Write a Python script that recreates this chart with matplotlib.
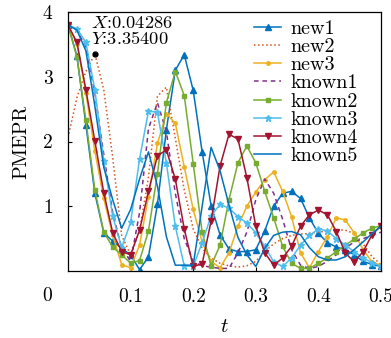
"""PMEPR over t for new and known sequences."""

import matplotlib
matplotlib.use("Agg")
import matplotlib.pyplot as plt

plt.rcParams["font.family"] = ["cmr10", "DejaVu Sans"]
plt.rcParams["mathtext.fontset"] = "cm"
plt.rcParams["axes.unicode_minus"] = False
plt.rcParams["axes.formatter.use_mathtext"] = True

t = [0.0, 0.01429, 0.02857, 0.04286, 0.05714, 0.07143, 0.08571, 0.1,
     0.11429, 0.12857, 0.14286, 0.15714, 0.17143, 0.18571, 0.2, 0.21429,
     0.22857, 0.24286, 0.25714, 0.27143, 0.28571, 0.3, 0.31429, 0.32857,
     0.34286, 0.35714, 0.37143, 0.38571, 0.4, 0.41429, 0.42857, 0.44286,
     0.45714, 0.47143, 0.48571, 0.5]

new1 = [3.80, 3.32, 2.26, 1.20, 0.59, 0.46, 0.35, 0.25, 0.02, 0.22, 1.03, 2.18,
        3.10, 3.34, 2.79, 1.84, 1.01, 0.56, 0.34, 0.30, 0.30, 0.33, 0.62, 1.00,
        1.20, 1.23, 1.12, 0.82, 0.58, 0.44, 0.37, 0.33, 0.25, 0.15, 0.10, 0.07]
new2 = [2.06, 2.68, 3.08, 3.354, 2.80, 1.75, 0.55, 0.25, 0.62, 1.45, 2.70, 2.84,
        2.05, 1.25, 0.65, 0.35, 0.20, 0.12, 0.08, 0.06, 0.08, 0.15, 0.30, 0.42,
        0.50, 0.55, 0.57, 0.58, 0.60, 0.62, 0.64, 0.63, 0.58, 0.42, 0.22, 0.10]
new3 = [3.80, 3.50, 2.75, 1.85, 1.12, 0.55, 0.10, 0.05, 0.40, 1.15, 1.97, 2.43,
        2.28, 1.61, 0.95, 0.45, 0.15, 0.05, 0.28, 0.69, 1.00, 1.22, 1.41, 1.53,
        1.23, 0.84, 0.28, 0.05, 0.30, 0.53, 0.82, 0.79, 0.59, 0.33, 0.14, 0.09]
known1 = [3.80, 3.72, 3.45, 2.75, 1.80, 0.90, 0.35, 0.15, 0.90, 2.20, 2.60, 2.15,
          1.20, 0.50, 0.15, 0.08, 0.06, 0.04, 0.04, 0.28, 0.60, 1.10, 1.42, 1.20,
          0.80, 0.33, 0.09, 0.04, 0.07, 0.15, 0.25, 0.35, 0.45, 0.50, 0.55, 0.60]
known2 = [3.80, 3.30, 2.33, 1.25, 0.60, 0.37, 0.25, 0.12, 0.16, 0.62, 1.50, 2.60,
          3.08, 2.71, 1.66, 0.60, 0.08, 0.40, 1.10, 1.67, 1.93, 1.67, 1.23, 0.82,
          0.38, 0.12, 0.04, 0.04, 0.12, 0.20, 0.30, 0.40, 0.49, 0.59, 0.66, 0.70]
known3 = [3.80, 3.74, 3.53, 2.80, 1.70, 0.85, 0.36, 0.75, 1.73, 2.47, 2.45, 1.67,
          0.69, 0.08, 0.07, 0.44, 0.85, 1.03, 0.97, 0.84, 0.74, 0.59, 0.38, 0.14,
          0.07, 0.20, 0.40, 0.55, 0.65, 0.62, 0.50, 0.40, 0.30, 0.20, 0.13, 0.07]
known4 = [3.80, 3.53, 2.80, 2.01, 1.21, 0.59, 0.30, 0.25, 0.63, 1.23, 1.78, 1.87,
          1.42, 0.65, 0.07, 0.11, 0.77, 1.62, 2.11, 2.04, 1.44, 0.69, 0.28, 0.09,
          0.20, 0.38, 0.69, 0.87, 0.94, 0.87, 0.61, 0.28, 0.14, 0.30, 0.56, 0.70]
known5 = [3.80, 3.72, 3.40, 2.55, 1.60, 1.10, 0.66, 0.95, 1.42, 1.84, 1.31, 0.53,
          0.09, 0.09, 0.09, 1.00, 1.91, 1.55, 1.02, 0.52, 0.25, 0.07, 0.35, 0.55,
          0.60, 0.61, 0.56, 0.36, 0.22, 0.17, 0.17, 0.22, 0.33, 0.45, 0.58, 0.69]

cursor_t, cursor_y = t[3], new2[3]

fig = plt.figure(figsize=(3.91, 3.38), dpi=100)
ax = fig.add_axes([68 / 391, 1 - 271 / 338, 313 / 391, 259 / 338])

lw = 1.1
ax.plot(t, new1, color="#0072BD", lw=lw, marker="^", ms=4, label="new1")
ax.plot(t, new2, color="#D95319", lw=lw, ls=":", label="new2")
ax.plot(t, new3, color="#EDB120", lw=lw, marker=".", ms=5, label="new3")
ax.plot(t, known1, color="#7E2F8E", lw=lw, ls=(0, (3, 2.5)), label="known1")
ax.plot(t, known2, color="#77AC30", lw=lw, marker="s", ms=3.2, label="known2")
ax.plot(t, known3, color="#4DBEEE", lw=lw, marker="*", ms=5, label="known3")
ax.plot(t, known4, color="#A2142F", lw=lw, marker="v", ms=4.5, label="known4")
ax.plot(t, known5, color="#0072BD", lw=lw, label="known5")

ax.plot([cursor_t], [cursor_y], "o", color="black", ms=3.5)
ax.annotate(f"$X$:{cursor_t:.5f}\n$Y$:{cursor_y:.5f}", xy=(cursor_t, cursor_y),
            xytext=(-4, 7), textcoords="offset pixels", ha="left", va="bottom",
            fontsize=13.3, linespacing=0.95)

ax.set_xlim(0, 0.5)
ax.set_ylim(0, 4)
ax.set_xticks([0.1, 0.2, 0.3, 0.4, 0.5])
ax.set_xticklabels(["0.1", "0.2", "0.3", "0.4", "0.5"])
ax.set_yticks([1, 2, 3, 4])
ax.set_yticklabels(["1", "2", "3", "4"])
ax.tick_params(axis="x", direction="in", length=3, width=0.8, pad=12, labelsize=14)
ax.tick_params(axis="y", direction="in", length=3, width=0.8, pad=11, labelsize=14)
ax.text(-0.068, -0.097, "0", transform=ax.transAxes, ha="center", va="center",
        fontsize=14)
for s in ax.spines.values():
    s.set_linewidth(0.9)

ax.set_xlabel("$t$", fontsize=15, labelpad=9)
ax.set_ylabel("PMEPR", fontsize=14.5, labelpad=9)

ax.legend(loc="upper right", bbox_to_anchor=(1 - 7 / 313, 1 + 8 / 259),
          frameon=False, fontsize=14.5, handlelength=1.35,
          handletextpad=0.45, labelspacing=0.0, borderaxespad=0.4)

fig.savefig("out.png", dpi=100)
